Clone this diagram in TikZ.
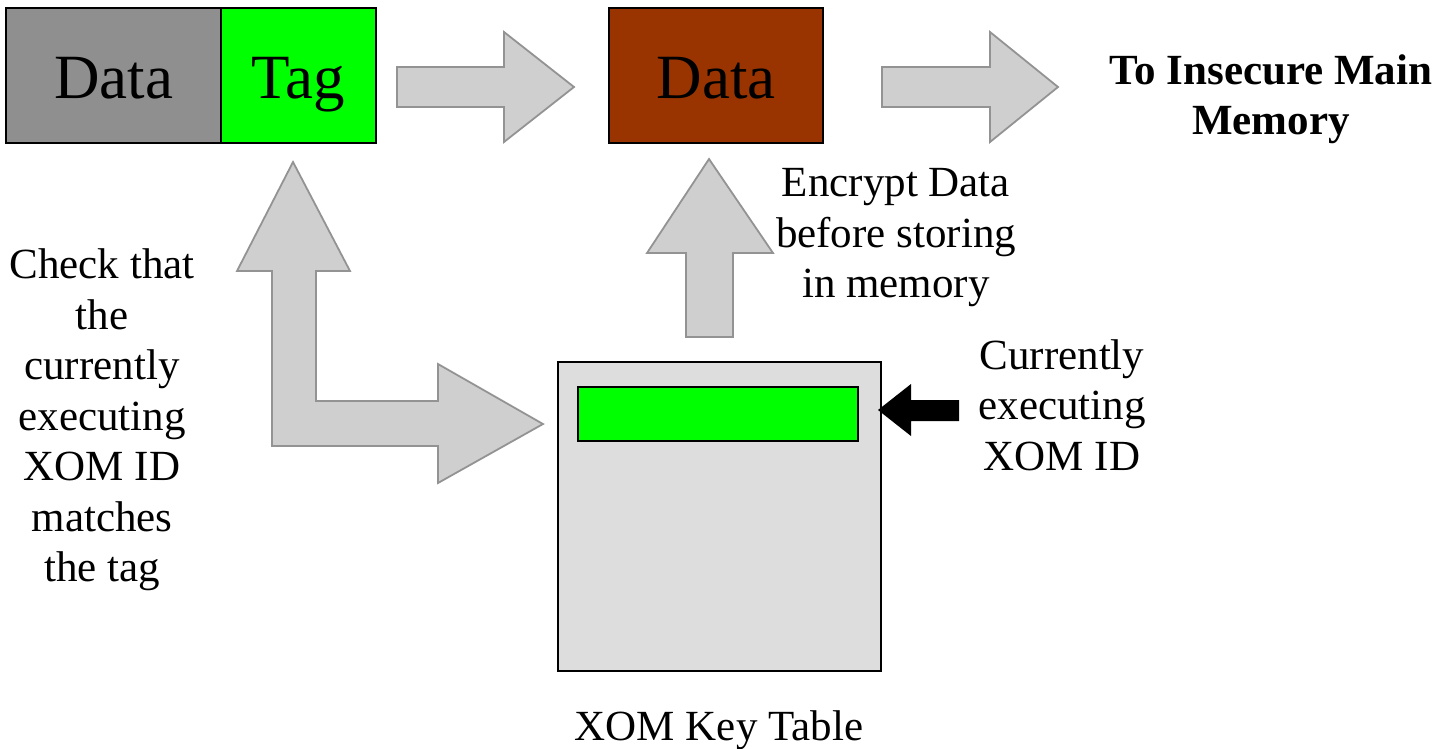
\documentclass[tikz,border=0pt]{standalone}
\usepackage{fontspec}
\setmainfont{Liberation Serif}
\definecolor{datagray}{HTML}{8F8F8F}
\definecolor{taggreen}{HTML}{00FF00}
\definecolor{cipherbrown}{HTML}{993300}
\definecolor{arrowfill}{HTML}{CFCFCF}
\definecolor{arrowline}{HTML}{939393}
\definecolor{tablefill}{HTML}{DDDDDD}
\begin{document}
\begin{tikzpicture}[x=1pt,y=-1pt,
  blockarrow/.style={fill=arrowfill, draw=arrowline, line width=1.8pt, line join=miter},
  box/.style={draw=black, line width=1.6pt, inner sep=0pt},
  big/.style={font=\fontsize{63}{70}\selectfont, text height=45pt, text depth=0pt},
  lbl/.style={font=\fontsize{43}{50.5}\selectfont, align=center, inner sep=0pt}]
\useasboundingbox (0,0) rectangle (1442,748);

% plaintext word: data field and its tag
\node[box, fill=datagray, big, minimum width=215pt, minimum height=135pt] (plain) at (113.5,75.5) {Data};
\node[box, fill=taggreen, big, minimum width=155pt, minimum height=135pt] (tag) at (298.5,75.5) {Tag};
% encrypted word
\node[box, fill=cipherbrown, big, minimum width=214pt, minimum height=135pt] (cipher) at (716,75.5) {Data};

% key table with the active entry
\node[box, fill=tablefill, minimum width=323pt, minimum height=309pt] (keytable) at (719.5,516.5) {};
\node[box, fill=taggreen, minimum width=280pt, minimum height=54pt] (active) at (718,414) {};

% labels
\node[lbl] (check) at (102,420) {Check that\\the\\currently\\executing\\XOM ID\\matches\\the tag};
\node[lbl] (encrypt) at (896,238) {Encrypt Data\\before storing\\in memory};
\node[lbl] (current) at (1062,405) {Currently\\executing\\XOM ID};
\node[lbl, font=\fontsize{43}{50.5}\selectfont\bfseries] (memory) at (1271,99) {To Insecure Main\\Memory};
\node[lbl, anchor=base] (tablename) at (719,740) {XOM Key Table};

% block arrows
\draw[blockarrow] (397,67) -- (504,67) -- (504,32) -- (574,87) -- (504,142) -- (504,107) -- (397,107) -- cycle;
\draw[blockarrow] (882,67) -- (990,67) -- (990,32) -- (1058,87) -- (990,142) -- (990,107) -- (882,107) -- cycle;
\draw[blockarrow] (709,159) -- (773,253) -- (733,253) -- (733,337) -- (686,337) -- (686,253) -- (647,253) -- cycle;
\draw[blockarrow] (293,162) -- (350,271) -- (316,271) -- (316,401) -- (438,401) -- (438,364)
  -- (543,424) -- (438,483) -- (438,446) -- (272,446) -- (272,271) -- (237,271) -- cycle;

% pointer to the active entry
\fill[black] (878,410) -- (911,384) -- (911,400) -- (959,400) -- (959,421) -- (911,421) -- (911,436) -- cycle;
\end{tikzpicture}
\end{document}
